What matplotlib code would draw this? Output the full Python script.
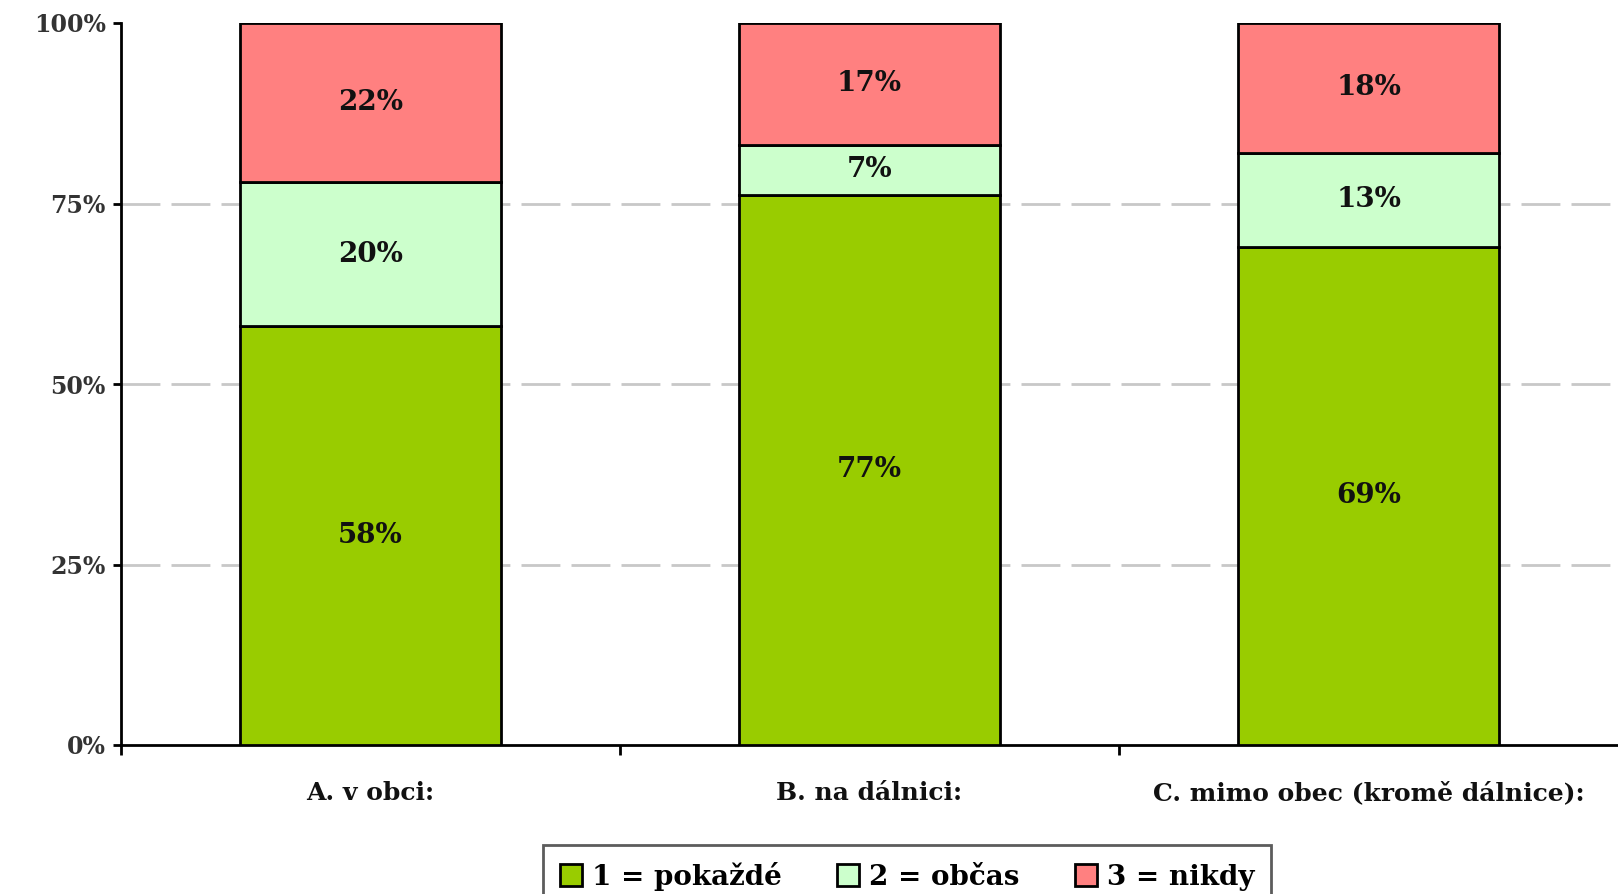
import numpy as np
from matplotlib import pyplot as plt

plt.rcParams['font.family'] = ['DejaVu Serif']
plt.rcParams['font.weight'] = 'bold'

categories = ["A. v obci:", "B. na dálnici:", "C. mimo obec (kromě dálnice):"]
series_names = ["1 = pokaždé", "2 = občas", "3 = nikdy"]
pokazde = [58, 77, 69]
obcas = [20, 7, 13]
nikdy = [22, 17, 18]
colors = ["#99CC00", "#CCFFCC", "#FF8080"]

values = np.array([pokazde, obcas, nikdy], dtype=float)
shares = values / values.sum(axis=0) * 100  # 100% stacked

fig = plt.figure(figsize=(16.18, 8.94), dpi=100)
ax = fig.add_axes([121 / 1618, 1 - 745 / 894, 1 - 121 / 1618, (745 - 23) / 894])

x = np.arange(len(categories))
bottom = np.zeros(len(categories))
for name, share, raw, col in zip(series_names, shares, values, colors):
    ax.bar(x, share, 0.525, bottom=bottom, color=col, edgecolor='black',
           linewidth=2, label=name, zorder=3)
    for xi, yb, h, v in zip(x, bottom, share, raw):
        ax.text(xi, yb + h / 2, f"{v:.0f}%", ha='center', va='center',
                fontsize=20, color='#111111', zorder=4)
    bottom += share

ax.set_xlim(-0.5, 2.5)
ax.set_ylim(0, 100)
ax.set_yticks([0, 25, 50, 75, 100])
ax.set_yticklabels(["0%", "25%", "50%", "75%", "100%"], fontsize=17, color='#333333')
ax.set_xticks(x)
ax.set_xticklabels(categories, fontsize=18, color='#111111')
ax.tick_params(axis='x', which='major', length=0, pad=26)
ax.set_xticks([-0.5, 0.5, 1.5], minor=True)
ax.tick_params(axis='x', which='minor', length=7, width=2, direction='out')
ax.tick_params(axis='y', length=6, width=2, direction='out', pad=5)

for yv in [25, 50, 75]:
    ax.axhline(yv, color='#C8C8C8', linewidth=2, dashes=(14, 4), zorder=1)

ax.spines['top'].set_visible(False)
ax.spines['right'].set_visible(False)
ax.spines['left'].set_linewidth(2)
ax.spines['bottom'].set_linewidth(2)

leg = fig.legend(loc='upper center', bbox_to_anchor=(907 / 1618, 1 - 845 / 894),
                 ncol=3, fontsize=20, frameon=True, fancybox=False,
                 edgecolor='#333333', handlelength=0.8, handleheight=0.8,
                 handletextpad=0.35, columnspacing=2.0, borderpad=0.6,
                 borderaxespad=0)
leg.get_frame().set_linewidth(2)

fig.savefig("out.png", dpi=100)
